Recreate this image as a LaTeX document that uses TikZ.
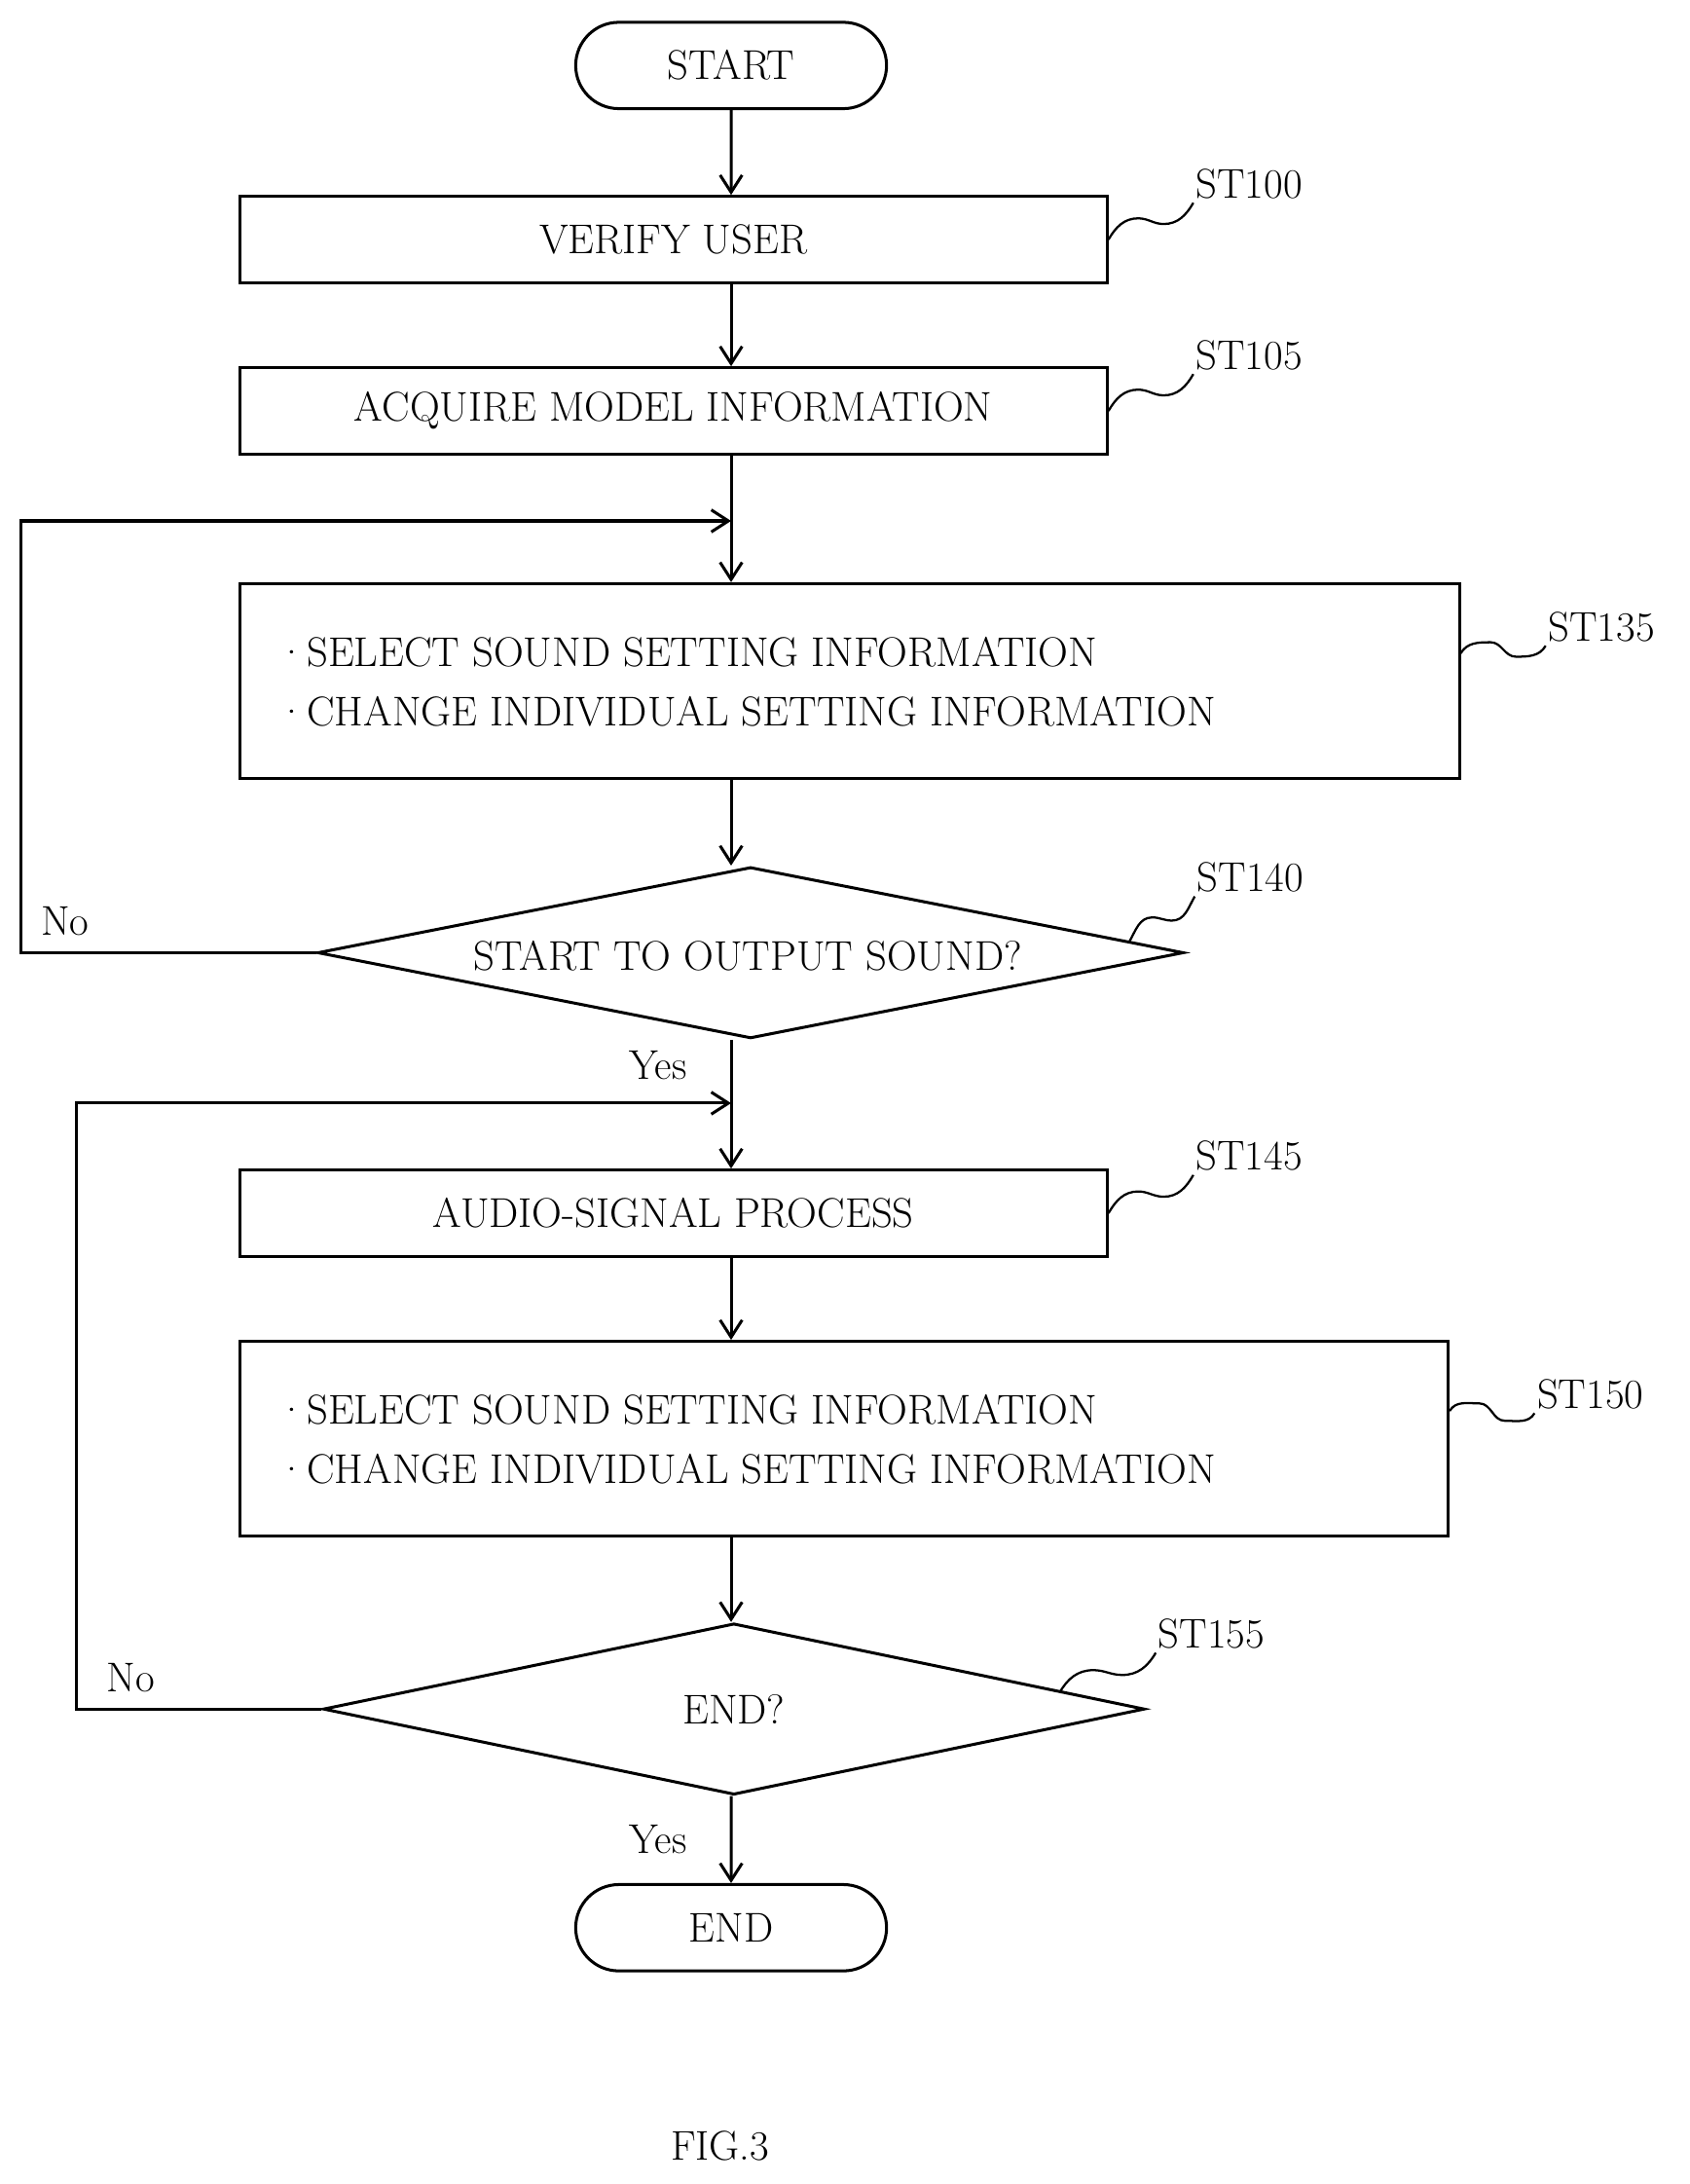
\documentclass[tikz,border=0pt]{standalone}
\usetikzlibrary{arrows.meta,positioning,shapes.geometric,shapes.misc,calc}

\begin{document}
\begin{tikzpicture}[
      x=0.02cm, y=-0.02cm,
      >={Straight Barb[length=7pt,width=9pt]},
      line width=1.2pt,
      font=\fontsize{17}{21}\selectfont,
      term/.style  ={rounded rectangle, draw, minimum width=4.7cm,
                     minimum height=1.24cm},
      proc/.style  ={rectangle, draw, minimum width=12.46cm,
                     minimum height=1.24cm, align=center},
      wide/.style  ={rectangle, draw, minimum height=2.8cm, align=left,
                     inner sep=0pt},
      dec/.style   ={diamond, draw, aspect=5.06, inner sep=0pt},
      tag/.style   ={anchor=center}
    ]
    \useasboundingbox (0,0) rectangle (1213,1568);

    % main chain
    \node[term] (start) at (525,47) {START};
    \node[proc] (verify) at (483.5,172) {VERIFY USER};
    \node[proc] (acquire) at (483.5,295) {ACQUIRE MODEL INFORMATION};
    \node[wide, minimum width=17.52cm] (select1) at (610,489) {};
    \node[anchor=west] (t1a) at (192,468) {\textperiodcentered SELECT SOUND SETTING INFORMATION};
    \node[anchor=west] (t1b) at (192,511) {\textperiodcentered CHANGE INDIVIDUAL SETTING INFORMATION};
    \node[dec, minimum width=12.44cm, minimum height=2.46cm] (output) at (539,684) {};
    \node (outtext) at (537,686) {START TO OUTPUT SOUND?};
    \node[proc] (audio) at (483.5,871) {AUDIO-SIGNAL PROCESS};
    \node[wide, minimum width=17.36cm] (select2) at (606,1033) {};
    \node[anchor=west] (t2a) at (192,1012) {\textperiodcentered SELECT SOUND SETTING INFORMATION};
    \node[anchor=west] (t2b) at (192,1055) {\textperiodcentered CHANGE INDIVIDUAL SETTING INFORMATION};
    \node[dec, minimum width=11.8cm, minimum height=2.46cm] (finish) at (527,1227) {END?};
    \node[term] (end) at (525,1384) {END};
    \node (fig) at (517,1541) {FIG.3};

    % step tags
    \node[tag] (st100) at (897,132) {ST100};
    \node[tag] (st105) at (897,255) {ST105};
    \node[tag] (st135) at (1150,450) {ST135};
    \node[tag] (st140) at (898,630) {ST140};
    \node[tag] (st145) at (897,830) {ST145};
    \node[tag] (st150) at (1142,1001) {ST150};
    \node[tag] (st155) at (870,1173) {ST155};

    \coordinate (j1) at (525,374);
    \coordinate (j2) at (525,792);
    \coordinate (l1) at (15,374);
    \coordinate (l2) at (55,792);

    \draw[->] (start) -- (verify.north -| start);
    \draw[->] (verify.south -| start) -- (acquire.north -| start);
    \draw[->] (acquire.south -| start) -- (select1.north -| start);
    \draw[->] (select1.south -| start) -- (output.north -| start);
    \draw[->] (output.south -| start) -- node[pos=0.2,left=0.5cm] {Yes} (audio.north -| start);
    \draw[->] (audio.south -| start) -- (select2.north -| start);
    \draw[->] (select2.south -| start) -- (finish.north -| start);
    \draw[->] (finish.south -| start) -- node[left=0.5cm] {Yes} (end);

    \draw[->] (output.west) -- node[above=3pt,pos=0.85] {No} (output.west -| l1) -- (l1) -- (j1);
    \draw[->] (finish.west) -- node[above=3pt,pos=0.78] {No} (finish.west -| l2) -- (l2) -- (j2);

    % squiggles
    \foreach \b/\t/\dx/\dy in {verify/st100/0/0, acquire/st105/0/0,
                              select1/st135/0/-20, output/st140/-40/-8,
                              audio/st145/0/0, select2/st150/0/-20,
                              finish/st155/-62/-12}{
      \coordinate (p) at ($(\b.east)+(\dx,\dy)$);
      \coordinate (q) at ($(\t.south west)+(5,-4)$);
      \draw[line width=0.9pt] (p) to[out=60,in=180] ($(p)!0.35!(q)+(0,-6)$)
            to[out=0,in=180] ($(p)!0.65!(q)+(0,6)$) to[out=0,in=240] (q);
    }
\end{tikzpicture}
\end{document}
